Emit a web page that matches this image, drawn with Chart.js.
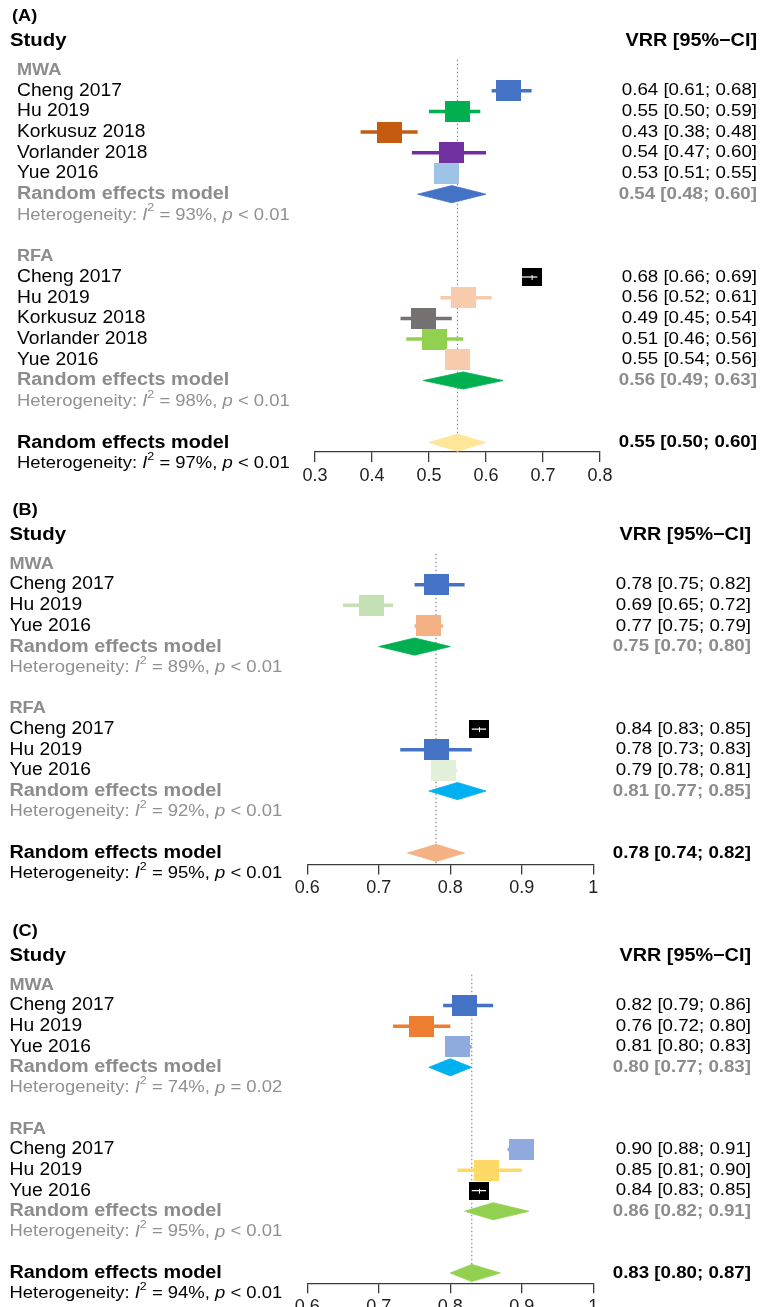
<!DOCTYPE html>
<html><head><meta charset="utf-8">
<script src="https://cdn.jsdelivr.net/npm/chart.js@4.4.1/dist/chart.umd.min.js"></script>
<style>
html,body{margin:0;padding:0;background:#fff;width:760px;height:1307px;overflow:hidden;}
canvas{position:absolute;left:0;}
</style></head><body>
<canvas id="cA" width="760" height="490" style="top:0px"></canvas>
<canvas id="cB" width="760" height="415" style="top:490px"></canvas>
<canvas id="cC" width="760" height="402" style="top:905px"></canvas>
<script>
// ================= DATA =================
const groupNames = ['MWA', 'RFA'];

// ---- Panel A ----
const studiesA = ['Cheng 2017', 'Hu 2019', 'Korkusuz 2018', 'Vorlander 2018', 'Yue 2016'];
const vrrA_MWA  = [0.64, 0.55, 0.43, 0.54, 0.53];
const lowA_MWA  = [0.61, 0.50, 0.38, 0.47, 0.51];
const highA_MWA = [0.68, 0.59, 0.48, 0.60, 0.55];
const vrrA_RFA  = [0.68, 0.56, 0.49, 0.51, 0.55];
const lowA_RFA  = [0.66, 0.52, 0.45, 0.46, 0.54];
const highA_RFA = [0.69, 0.61, 0.54, 0.56, 0.56];
const remA      = [0.54, 0.56, 0.55];   // MWA, RFA, overall
const remLowA   = [0.48, 0.49, 0.50];
const remHighA  = [0.60, 0.63, 0.60];
const i2A       = ['93%', '98%', '97%'];
const pA        = ['< 0.01', '< 0.01', '< 0.01'];
const ticksA      = [0.3, 0.4, 0.5, 0.6, 0.7, 0.8];
const tickLabelsA = ['0.3', '0.4', '0.5', '0.6', '0.7', '0.8'];

// ---- Panel B ----
const studiesB = ['Cheng 2017', 'Hu 2019', 'Yue 2016'];
const vrrB_MWA  = [0.78, 0.69, 0.77];
const lowB_MWA  = [0.75, 0.65, 0.75];
const highB_MWA = [0.82, 0.72, 0.79];
const vrrB_RFA  = [0.84, 0.78, 0.79];
const lowB_RFA  = [0.83, 0.73, 0.78];
const highB_RFA = [0.85, 0.83, 0.81];
const remB      = [0.75, 0.81, 0.78];
const remLowB   = [0.70, 0.77, 0.74];
const remHighB  = [0.80, 0.85, 0.82];
const i2B       = ['89%', '92%', '95%'];
const pB        = ['< 0.01', '< 0.01', '< 0.01'];
const ticksB      = [0.6, 0.7, 0.8, 0.9, 1.0];
const tickLabelsB = ['0.6', '0.7', '0.8', '0.9', '1'];

// ---- Panel C ----
const studiesC = ['Cheng 2017', 'Hu 2019', 'Yue 2016'];
const vrrC_MWA  = [0.82, 0.76, 0.81];
const lowC_MWA  = [0.79, 0.72, 0.80];
const highC_MWA = [0.86, 0.80, 0.83];
const vrrC_RFA  = [0.90, 0.85, 0.84];
const lowC_RFA  = [0.88, 0.81, 0.83];
const highC_RFA = [0.91, 0.90, 0.85];
const remC      = [0.80, 0.86, 0.83];
const remLowC   = [0.77, 0.82, 0.80];
const remHighC  = [0.83, 0.91, 0.87];
const i2C       = ['74%', '95%', '94%'];
const pC        = ['= 0.02', '< 0.01', '< 0.01'];
const ticksC      = [0.6, 0.7, 0.8, 0.9, 1.0];
const tickLabelsC = ['0.6', '0.7', '0.8', '0.9', '1'];

// ================= STYLES =================
const colorsA = [['#4472C4', '#00B050', '#C55A11', '#7030A0', '#9DC3E6'],
                 ['#000000', '#F8CBAD', '#767171', '#92D050', '#F8CBAD']];
const diamondsA = ['#4472C4', '#00B050', '#FFE699'];
const colorsB = [['#4472C4', '#C5E0B4', '#F4B183'],
                 ['#000000', '#4472C4', '#E2F0D9']];
const diamondsB = ['#00B050', '#00B0F0', '#F4B183'];
const colorsC = [['#4472C4', '#ED7D31', '#8FAADC'],
                 ['#8FAADC', '#FFD966', '#000000']];
const diamondsC = ['#00B0F0', '#92D050', '#92D050'];

const FONT = '"Liberation Sans", Arial, Helvetica, sans-serif';
const SX = 1.1;
const GRAY = '#8c8c8c';
const HGRAY = '#909090';

function fmt(v) { return v.toFixed(2); }
function ciText(v, l, h) { return fmt(v) + ' [' + fmt(l) + '; ' + fmt(h) + ']'; }
function hetSegs(i2, p) {
  return [{t: 'Heterogeneity: '}, {t: 'I', it: true}, {t: '2', sup: true},
          {t: ' = ' + i2 + ', '}, {t: 'p', it: true}, {t: ' ' + p}];
}
function boxImage(color, w, h, black) {
  const c = document.createElement('canvas'); c.width = w; c.height = h;
  const g = c.getContext('2d'); g.fillStyle = color; g.fillRect(0, 0, w, h);
  if (black) { g.fillStyle = '#ffffff'; g.fillRect(Math.floor(w / 2), Math.floor(h / 2) - 2, 1, 5); }
  return c;
}
function drawSegs(ctx, x, y, segs, size, color, weight, align) {
  ctx.save();
  ctx.translate(x, y); ctx.scale(SX, 1);
  ctx.textBaseline = 'middle'; ctx.textAlign = 'left'; ctx.fillStyle = color;
  const fontOf = s => (s.it ? 'italic ' : '') + weight + ' ' + (s.sup ? size * 0.68 : size) + 'px ' + FONT;
  let total = 0;
  segs.forEach(s => { ctx.font = fontOf(s); s.w = ctx.measureText(s.t).width; total += s.w; });
  let cx = align === 'right' ? -total : 0;
  segs.forEach(s => { ctx.font = fontOf(s); ctx.fillText(s.t, cx, s.sup ? -size * 0.4 : 0); cx += s.w; });
  ctx.restore();
}

const panels = [
  { id: 'cA', label: '(A)', ref: remA[2], ticks: ticksA, tickLabels: tickLabelsA, xMin: 0.3, xMax: 0.8,
    groups: [
      {studies: studiesA, vrr: vrrA_MWA, lo: lowA_MWA, hi: highA_MWA, colors: colorsA[0]},
      {studies: studiesA, vrr: vrrA_RFA, lo: lowA_RFA, hi: highA_RFA, colors: colorsA[1]}],
    rem: remA, remLo: remLowA, remHi: remHighA, i2: i2A, p: pA, dcol: diamondsA,
    L: {height: 490, rowTop: 70, rowH: 20.7, axisY: 452, xLeft: 315, xRight: 600,
        textX: 17, headX: 10, labelX: 12, rightX: 757, tickPad: 3} },
  { id: 'cB', label: '(B)', ref: remB[2], ticks: ticksB, tickLabels: tickLabelsB, xMin: 0.6, xMax: 1.0,
    groups: [
      {studies: studiesB, vrr: vrrB_MWA, lo: lowB_MWA, hi: highB_MWA, colors: colorsB[0]},
      {studies: studiesB, vrr: vrrB_RFA, lo: lowB_RFA, hi: highB_RFA, colors: colorsB[1]}],
    rem: remB, remLo: remLowB, remHi: remHighB, i2: i2B, p: pB, dcol: diamondsB,
    L: {height: 415, rowTop: 74, rowH: 20.64, axisY: 374.5, xLeft: 307.3, xRight: 593.3,
        textX: 9.5, headX: 9.5, labelX: 12.5, rightX: 751, tickPad: 3} },
  { id: 'cC', label: '(C)', ref: remC[2], ticks: ticksC, tickLabels: tickLabelsC, xMin: 0.6, xMax: 1.0,
    groups: [
      {studies: studiesC, vrr: vrrC_MWA, lo: lowC_MWA, hi: highC_MWA, colors: colorsC[0]},
      {studies: studiesC, vrr: vrrC_RFA, lo: lowC_RFA, hi: highC_RFA, colors: colorsC[1]}],
    rem: remC, remLo: remLowC, remHi: remHighC, i2: i2C, p: pC, dcol: diamondsC,
    L: {height: 402, rowTop: 80, rowH: 20.57, axisY: 378.3, xLeft: 307.3, xRight: 593.3,
        textX: 9.5, headX: 9.5, labelX: 12.5, rightX: 751, tickPad: 3} }
];

function diamondDataset(est, lo, hi, r, dh, color) {
  return {type: 'line', data: [{x: lo, y: r}, {x: est, y: r - dh}, {x: hi, y: r}, {x: est, y: r + dh}, {x: lo, y: r}],
          borderColor: color, backgroundColor: color, borderWidth: 0.8, fill: 'shape',
          pointRadius: 0, tension: 0, order: 9};
}

panels.forEach(P => {
  const L = P.L;
  const yMin = -L.rowTop / L.rowH;
  const yMax = (L.axisY - L.rowTop) / L.rowH;
  const dh = 8.6 / L.rowH;
  const ds = [], texts = [], boxPts = [], boxImgs = [];

  texts.push({r: -2.58, x: L.labelX, segs: [{t: P.label}], size: 16.5, w: 'bold', c: '#000'});
  texts.push({r: -1.4, x: L.headX, segs: [{t: 'Study'}], size: 18.5, w: 'bold', c: '#000'});
  texts.push({r: -1.4, x: L.rightX, segs: [{t: 'VRR [95%\u2212CI]'}], size: 18, w: 'bold', c: '#000', a: 'right'});

  let r = 0;
  P.groups.forEach((g, gi) => {
    texts.push({r, x: L.textX, segs: [{t: groupNames[gi]}], size: 16.5, w: 'bold', c: GRAY});
    r++;
    g.studies.forEach((s, i) => {
      const v = g.vrr[i], lo = g.lo[i], hi = g.hi[i], col = g.colors[i];
      const black = col === '#000000';
      texts.push({r, x: L.textX, segs: [{t: s}], size: 17.5, w: 'normal', c: '#000'});
      texts.push({r, x: L.rightX, segs: [{t: ciText(v, lo, hi)}], size: 17, w: 'normal', c: '#000', a: 'right'});
      ds.push({type: 'line', data: [{x: lo, y: r}, {x: hi, y: r}],
               borderColor: black ? '#ffffff' : col, borderWidth: black ? 1.2 : 3.5,
               borderCapStyle: 'butt', pointRadius: 0, fill: false, order: black ? 6 : 8});
      boxPts.push({x: v, y: r});
      boxImgs.push(black ? boxImage(col, 20, 18, true) : boxImage(col, 25, 21, false));
      r++;
    });
    texts.push({r, x: L.textX, segs: [{t: 'Random effects model'}], size: 18, w: 'bold', c: GRAY});
    texts.push({r, x: L.rightX, segs: [{t: ciText(P.rem[gi], P.remLo[gi], P.remHi[gi])}], size: 17, w: 'bold', c: GRAY, a: 'right'});
    ds.push(diamondDataset(P.rem[gi], P.remLo[gi], P.remHi[gi], r, dh, P.dcol[gi]));
    r++;
    texts.push({r, x: L.textX, segs: hetSegs(P.i2[gi], P.p[gi]), size: 16.8, w: 'normal', c: HGRAY});
    r += 2;
  });
  texts.push({r, x: L.textX, segs: [{t: 'Random effects model'}], size: 18, w: 'bold', c: '#000'});
  texts.push({r, x: L.rightX, segs: [{t: ciText(P.rem[2], P.remLo[2], P.remHi[2])}], size: 17, w: 'bold', c: '#000', a: 'right'});
  ds.push(diamondDataset(P.rem[2], P.remLo[2], P.remHi[2], r, dh, P.dcol[2]));
  texts.push({r: r + 1, x: L.textX, segs: hetSegs(P.i2[2], P.p[2]), size: 16.8, w: 'normal', c: '#000'});

  // boxes
  ds.push({type: 'scatter', data: boxPts, showLine: false, pointRadius: 1,
           pointStyle: c => boxImgs[c.dataIndex], order: 7});
  // reference (overall estimate) dotted line
  ds.push({type: 'line', data: [{x: P.ref, y: -0.5}, {x: P.ref, y: yMax}],
           borderColor: '#8a8a8a', borderWidth: 1.2, borderDash: [1.5, 2.5], pointRadius: 0, fill: false, order: 10});

  const textPlugin = {
    id: 'forestText',
    afterDatasetsDraw(chart) {
      const ctx = chart.ctx, ys = chart.scales.y;
      texts.forEach(t => drawSegs(ctx, t.x, ys.getPixelForValue(t.r), t.segs, t.size, t.c, t.w, t.a || 'left'));
    }
  };

  new Chart(document.getElementById(P.id), {
    type: 'scatter',
    data: {datasets: ds},
    options: {
      responsive: false, animation: false, events: [],
      layout: {autoPadding: false, padding: {left: L.xLeft, right: 760 - L.xRight, top: 0, bottom: 0}},
      plugins: {legend: {display: false}, tooltip: {enabled: false}, colors: {enabled: false}},
      scales: {
        x: {type: 'linear', min: P.xMin, max: P.xMax,
            afterBuildTicks: s => { s.ticks = P.ticks.map(v => ({value: v})); },
            afterFit: s => { s.height = L.height - L.axisY; },
            ticks: {callback: (v, i) => P.tickLabels[i], font: {size: 18, family: FONT}, color: '#222',
                    padding: L.tickPad, maxRotation: 0, autoSkip: false},
            grid: {display: true, drawOnChartArea: false, drawTicks: true, tickLength: 10, color: '#3a3a3a', lineWidth: 1.3},
            border: {display: true, color: '#3a3a3a', width: 1.3}},
        y: {type: 'linear', display: false, reverse: true, min: yMin, max: yMax}
      }
    },
    plugins: [textPlugin]
  });
});
</script>
</body></html>
